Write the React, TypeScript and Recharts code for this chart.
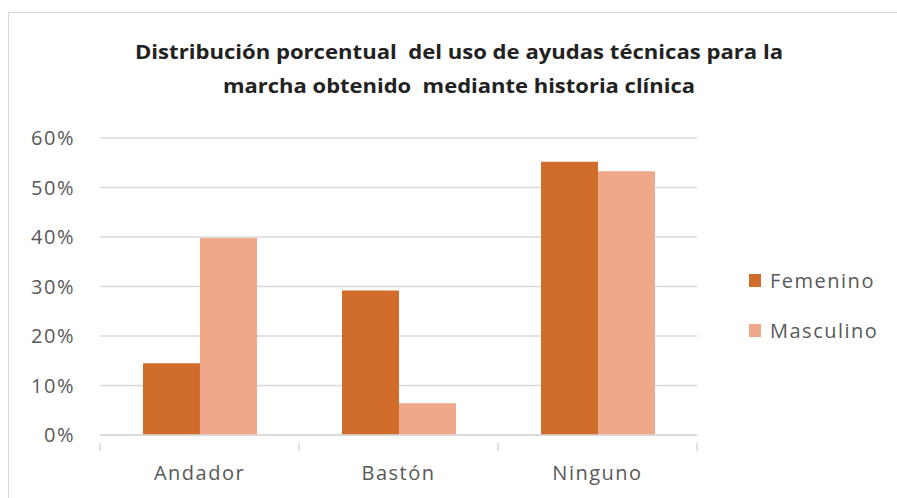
import { BarChart, Bar, XAxis, YAxis, CartesianGrid } from "recharts";

const categories = ["Andador", "Bastón", "Ninguno"];
const femenino = [0.145, 0.292, 0.552];
const masculino = [0.398, 0.064, 0.533];
const yTicks = [0, 0.1, 0.2, 0.3, 0.4, 0.5, 0.6];
const titleLines = [
  "Distribución porcentual  del uso de ayudas técnicas para la",
  "marcha obtenido  mediante historia clínica",
];

const SERIES = [
  { key: "Femenino", color: "#D06D2B" },
  { key: "Masculino", color: "#F0A88A" },
];

const data = categories.map((c, i) => ({
  name: c,
  Femenino: femenino[i],
  Masculino: masculino[i],
}));

const FONT = "'Open Sans', sans-serif";
const GRAY = "#595959";
const LINE = "#d9d9d9";

function CategoryTick(props: any) {
  const { x, y, payload, index, visibleTicksCount } = props;
  const half = payload?.offset ?? 99.5;
  const top = y;
  return (
    <g>
      <line x1={x - half} x2={x - half} y1={top} y2={top + 8} stroke={LINE} strokeWidth={1.5} />
      {index === visibleTicksCount - 1 && (
        <line x1={x + half} x2={x + half} y1={top} y2={top + 8} stroke={LINE} strokeWidth={1.5} />
      )}
      <text
        x={x}
        y={top + 29}
        textAnchor="middle"
        dominantBaseline="central"
        fill={GRAY}
        fontSize={20}
        fontFamily={FONT}
        letterSpacing={1.5}
      >
        {payload.value}
      </text>
    </g>
  );
}

function SideLegend() {
  return (
    <div
      style={{
        position: "absolute",
        left: 749,
        top: 255,
        fontFamily: FONT,
        fontSize: 20,
        color: GRAY,
        letterSpacing: 1.5,
      }}
    >
      {SERIES.map((s) => (
        <div key={s.key} style={{ display: "flex", alignItems: "center", height: 50 }}>
          <span style={{ width: 12, height: 13, background: s.color, marginRight: 9 }} />
          <span>{s.key}</span>
        </div>
      ))}
    </div>
  );
}

export default function App() {
  return (
    <div
      style={{
        position: "relative",
        width: 897,
        height: 498,
        background: "#fff",
        overflow: "hidden",
      }}
    >
      <style>{`body{margin:0}`}</style>
      <div
        style={{
          position: "absolute",
          left: 8,
          top: 12,
          width: 920,
          height: 520,
          border: `1.5px solid ${LINE}`,
        }}
      />
      <svg width={897} height={110} style={{ position: "absolute", left: 0, top: 0 }}>
        <text
          x={135}
          y={59}
          textLength={648}
          lengthAdjust="spacingAndGlyphs"
          fontFamily={FONT}
          fontWeight={700}
          fontSize={20}
          fill="#222"
          style={{ whiteSpace: "pre" }}
        >
          {titleLines[0]}
        </text>
        <text
          x={223}
          y={93}
          textLength={472}
          lengthAdjust="spacingAndGlyphs"
          fontFamily={FONT}
          fontWeight={700}
          fontSize={20}
          fill="#222"
          style={{ whiteSpace: "pre" }}
        >
          {titleLines[1]}
        </text>
      </svg>
      <div style={{ position: "absolute", left: 0, top: 0 }}>
        <BarChart
          width={897}
          height={498}
          data={data}
          margin={{ top: 138, right: 200, bottom: 0, left: 0 }}
          barCategoryGap="21.6%"
          barGap={0}
        >
          <CartesianGrid vertical={false} stroke={LINE} strokeWidth={1.5} />
          <XAxis
            dataKey="name"
            height={63}
            axisLine={{ stroke: LINE, strokeWidth: 1.5 }}
            tickLine={false}
            tick={<CategoryTick />}
            interval={0}
          />
          <YAxis
            width={100}
            domain={[0, 0.6]}
            ticks={yTicks}
            axisLine={false}
            tickLine={false}
            tickSize={0}
            tickMargin={25}
            tickFormatter={(v: number) => `${Math.round(v * 100)}%`}
            tick={{ fill: GRAY, fontSize: 20, fontFamily: FONT, letterSpacing: 1.5 }}
          />
          {SERIES.map((s) => (
            <Bar key={s.key} dataKey={s.key} fill={s.color} isAnimationActive={false} />
          ))}
        </BarChart>
      </div>
      <SideLegend />
    </div>
  );
}
